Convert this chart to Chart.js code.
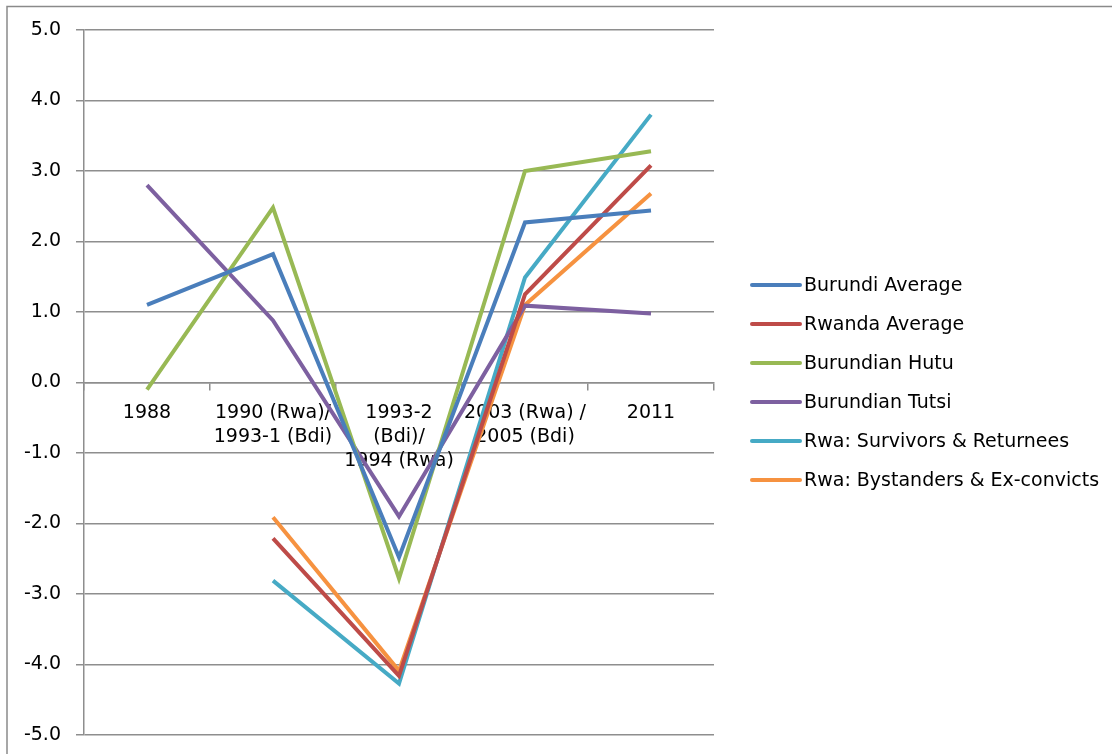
<!DOCTYPE html>
<html>
<head>
<meta charset="utf-8">
<script src="https://cdn.jsdelivr.net/npm/chart.js@4/dist/chart.umd.min.js"></script>
<style>
  html, body { margin: 0; padding: 0; background: #fff; }
  #wrap { width: 1112px; height: 754px; }
</style>
</head>
<body>
<div id="wrap"><canvas id="myChart" width="1112" height="754"></canvas></div>
<script>
// categories and series
const categories = [
    '1988',
    ['1990 (Rwa)/', '1993-1 (Bdi)'],
    ['1993-2', '(Bdi)/', '1994 (Rwa)'],
    ['2003 (Rwa) /', '2005 (Bdi)'],
    '2011'
];
const burundiAverage = [1.1, 1.82, -2.48, 2.27, 2.44];
const rwandaAverage = [null, -2.21, -4.16, 1.25, 3.08];
const burundianHutu = [-0.1, 2.48, -2.78, 3.0, 3.28];
const burundianTutsi = [2.8, 0.88, -1.9, 1.09, 0.98];
const survivorsReturnees = [null, -2.81, -4.27, 1.49, 3.8];
const bystandersExConvicts = [null, -1.91, -4.09, 1.1, 2.68];
const yTicks = [-5, -4, -3, -2, -1, 0, 1, 2, 3, 4, 5];

const font = "'DejaVu Sans', sans-serif";
const gridColor = '#8e8e8e';

function series(label, values, color) {
    return {
        label: label,
        data: values,
        borderColor: color,
        backgroundColor: color,
        borderWidth: 4,
        pointRadius: 0,
        tension: 0,
        spanGaps: false
    };
}

// outer frame + legend drawn by hand so it sits where the original one does
const frame = {
    id: 'frame',
    beforeDraw(chart) {
        const ctx = chart.ctx;
        ctx.save();
        ctx.fillStyle = '#fff';
        ctx.fillRect(0, 0, chart.width, chart.height);
        ctx.strokeStyle = '#8a8a8a';
        ctx.lineWidth = 1.5;
        ctx.strokeRect(7, 6.5, 1300, 1000);
        ctx.restore();
    },
    afterDraw(chart) {
        const ctx = chart.ctx;
        ctx.save();
        ctx.font = '19px ' + font;
        ctx.textBaseline = 'middle';
        ctx.fillStyle = '#000';
        chart.data.datasets.forEach((ds, i) => {
            const y = 285 + i * 39;
            ctx.strokeStyle = ds.borderColor;
            ctx.lineWidth = 4;
            ctx.lineCap = 'round';
            ctx.beginPath();
            ctx.moveTo(752, y);
            ctx.lineTo(800, y);
            ctx.stroke();
            ctx.fillText(ds.label, 804, y + 1);
        });
        ctx.restore();
    }
};

const data = {
    labels: categories,
    datasets: [
        series('Burundi Average', burundiAverage, '#4a7ebb'),
        series('Rwanda Average', rwandaAverage, '#be4b48'),
        series('Burundian Hutu', burundianHutu, '#98b954'),
        series('Burundian Tutsi', burundianTutsi, '#7d60a0'),
        series('Rwa: Survivors & Returnees', survivorsReturnees, '#46aac5'),
        series('Rwa: Bystanders & Ex-convicts', bystandersExConvicts, '#f69240')
    ]
};

const config = {
    type: 'line',
    data: data,
    options: {
        responsive: false,
        animation: false,
        layout: { padding: { left: 0, top: 30, right: 398, bottom: 19 } },
        plugins: {
            legend: { display: false },
            tooltip: { enabled: false }
        },
        scales: {
            x: {
                position: { y: 0 },
                offset: true,
                grid: {
                    offset: true,
                    drawOnChartArea: false,
                    drawTicks: true,
                    tickLength: 7,
                    color: gridColor,
                    lineWidth: 1.5
                },
                border: { color: gridColor, width: 1.5 },
                ticks: {
                    color: '#000',
                    font: { family: font, size: 19, lineHeight: 1.27 },
                    padding: 11,
                    maxRotation: 0,
                    autoSkip: false
                }
            },
            y: {
                min: -5,
                max: 5,
                afterFit(scale) {
                    scale.width = 84;
                    scale.paddingTop = 0;
                    scale.paddingBottom = 0;
                },
                afterBuildTicks(scale) { scale.ticks = yTicks.map(v => ({ value: v })); },
                grid: {
                    color: gridColor,
                    lineWidth: 1.5,
                    tickLength: 8
                },
                border: { color: gridColor, width: 1.5 },
                ticks: {
                    color: '#000',
                    font: { family: font, size: 19 },
                    padding: 15,
                    callback: v => Number(v).toFixed(1)
                }
            }
        }
    },
    plugins: [frame]
};

const myChart = new Chart(document.getElementById('myChart'), config);
</script>
</body>
</html>
